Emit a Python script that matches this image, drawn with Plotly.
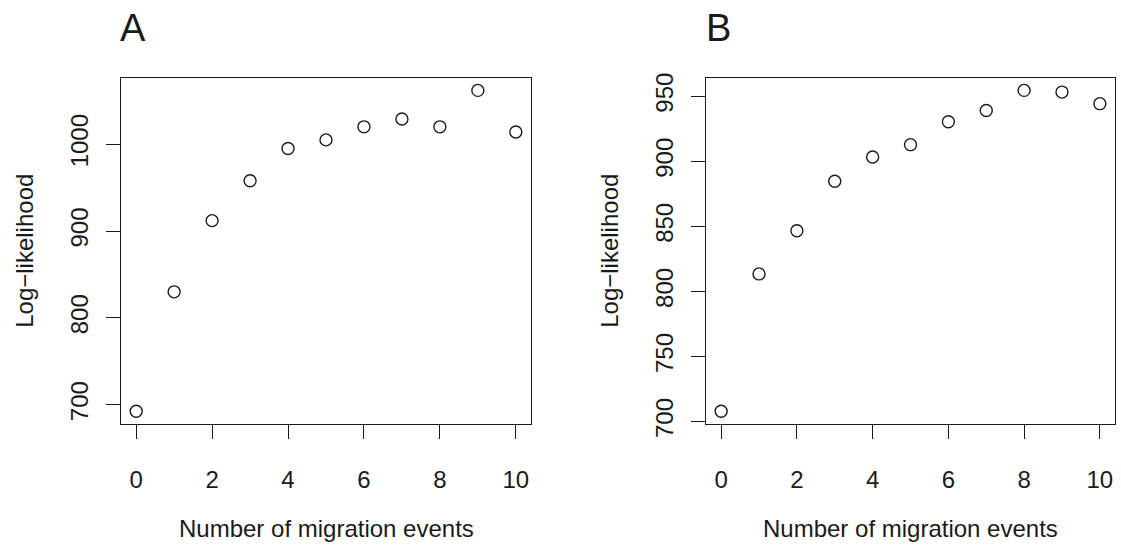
import plotly.graph_objects as go

migration_events = [0, 1, 2, 3, 4, 5, 6, 7, 8, 9, 10]
loglik_a = [692.5, 830, 912, 958, 995, 1005, 1020, 1029, 1020, 1062, 1014]
loglik_b = [708, 813.5, 846.7, 884.7, 903.3, 912.8, 930.4, 939.1, 954.5, 953.2, 944.3]
x_ticks = [0, 2, 4, 6, 8, 10]
y_ticks_a = [700, 800, 900, 1000]
y_ticks_b = [700, 750, 800, 850, 900, 950]
panel_labels = ["A", "B"]
x_title = "Number of migration events"
y_title = "Log\u2212likelihood"

W, H = 1121, 560
FONT = "Liberation Sans, Arial, Helvetica, sans-serif"
INK = "#1a1a1a"


def rpad(vals):
    lo, hi = min(vals), max(vals)
    d = (hi - lo) * 0.04
    return [lo - d, hi + d]


fig = go.Figure()
fig.add_trace(go.Scatter(x=migration_events, y=loglik_a, mode="markers",
                         marker=dict(symbol="circle-open", size=12, color=INK, line=dict(width=1.4, color=INK)),
                         xaxis="x", yaxis="y", showlegend=False, hoverinfo="x+y"))
fig.add_trace(go.Scatter(x=migration_events, y=loglik_b, mode="markers",
                         marker=dict(symbol="circle-open", size=12, color=INK, line=dict(width=1.4, color=INK)),
                         xaxis="x2", yaxis="y2", showlegend=False, hoverinfo="x+y"))

# pixel geometry of the two boxes
boxA = (121, 531)
boxB = (706, 1115)
top, bottom = 76, 434


def px2x(p):
    return p / W


def px2y(p):
    return (H - p) / H


ydom = [px2y(bottom), px2y(top)]

axis_common = dict(showgrid=False, zeroline=False, showline=True, mirror=True,
                   linecolor=INK, linewidth=1.3, ticks="outside", ticklen=14,
                   tickwidth=1.2, tickcolor=INK,
                   tickfont=dict(family=FONT, size=24, color=INK))

fig.update_layout(
    width=W, height=H,
    margin=dict(l=0, r=0, t=0, b=0),
    paper_bgcolor="white", plot_bgcolor="white",
    xaxis=dict(domain=[px2x(boxA[0]), px2x(boxA[1])], range=rpad(migration_events),
               tickvals=x_ticks, anchor="y", ticklabelstandoff=20, **axis_common),
    yaxis=dict(domain=ydom, range=rpad(loglik_a), tickvals=y_ticks_a, tickangle=-90,
               anchor="x", ticklabelstandoff=8, **axis_common),
    xaxis2=dict(domain=[px2x(boxB[0]), px2x(boxB[1])], range=rpad(migration_events),
                tickvals=x_ticks, anchor="y2", ticklabelstandoff=20, **axis_common),
    yaxis2=dict(domain=ydom, range=rpad(loglik_b), tickvals=y_ticks_b, tickangle=-90,
                anchor="x2", ticklabelstandoff=8, **axis_common),
)

annots = []
for lab, cx in zip(panel_labels, [133, 718]):
    annots.append(dict(text=lab, x=px2x(cx), y=px2y(25), xref="paper", yref="paper",
                       showarrow=False, xanchor="center", yanchor="middle",
                       font=dict(family=FONT, size=38, color=INK)))
for (l, r) in [boxA, boxB]:
    annots.append(dict(text=x_title, x=px2x((l + r) / 2), y=px2y(542), xref="paper", yref="paper",
                       showarrow=False, xanchor="center", yanchor="middle",
                       font=dict(family=FONT, size=24, color=INK)))
for cx in [25, 25 + (boxB[0] - boxA[0])]:
    annots.append(dict(text=y_title, x=px2x(cx), y=px2y((top + bottom) / 2), xref="paper", yref="paper",
                       showarrow=False, xanchor="center", yanchor="middle", textangle=-90,
                       font=dict(family=FONT, size=24, color=INK)))
fig.update_layout(annotations=annots)

fig.write_html("out.html", config={"displayModeBar": False},
               post_script="document.body.style.margin='0';document.body.style.overflow='hidden';")
